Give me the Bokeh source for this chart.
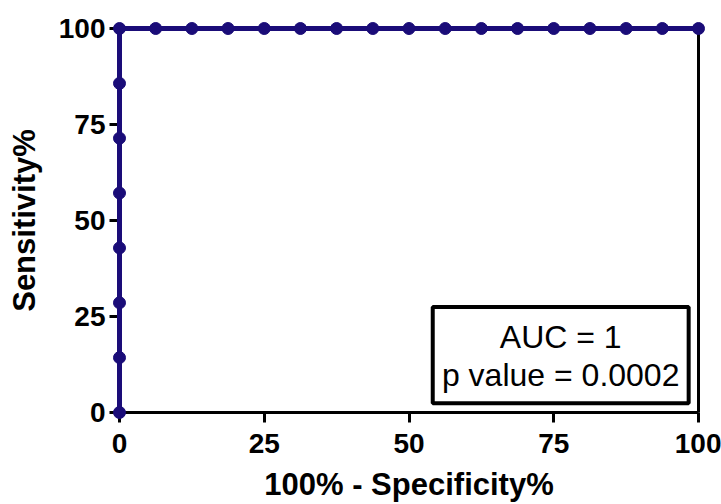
from bokeh.plotting import figure
from bokeh.models import Range1d, FixedTicker, BoxAnnotation, Label
from bokeh.embed import file_html
from bokeh.resources import INLINE

# ROC curve data (percent)
fpr = [0, 0, 0, 0, 0, 0, 0, 0,
       6.25, 12.5, 18.75, 25, 31.25, 37.5, 43.75, 50,
       56.25, 62.5, 68.75, 75, 81.25, 87.5, 93.75, 100]
tpr = [0, 14.29, 28.57, 42.86, 57.14, 71.43, 85.71, 100,
       100, 100, 100, 100, 100, 100, 100, 100,
       100, 100, 100, 100, 100, 100, 100, 100]
ticks = [0, 25, 50, 75, 100]
x_title = "100% - Specificity%"
y_title = "Sensitivity%"
auc_text = "AUC = 1"
p_text = "p value = 0.0002"

FONT = "Liberation Sans"
COL = "#1a0c78"

PAD = 8  # px of frame beyond the data box so markers are not clipped
xpu = 579 / 100.0
ypu = 384 / 100.0
xpad = PAD / xpu
ypad = PAD / ypu

p = figure(width=721, height=504, output_backend="svg", toolbar_location=None,
           x_range=Range1d(-xpad, 100 + xpad), y_range=Range1d(-ypad, 100 + ypad),
           min_border_left=119 - PAD, min_border_right=23 - PAD,
           min_border_top=28 - PAD, min_border_bottom=92 - PAD)
p.background_fill_color = "white"
p.border_fill_color = "white"
p.outline_line_color = None
p.xgrid.visible = False
p.ygrid.visible = False

for ax in (p.xaxis[0], p.yaxis[0]):
    ax.ticker = FixedTicker(ticks=ticks)
    ax.minor_tick_line_color = None
    ax.axis_line_color = None
    ax.major_tick_line_width = 3
    ax.major_tick_line_color = "black"
    ax.major_tick_in = PAD
    ax.major_tick_out = 2
    ax.major_label_text_font = FONT
    ax.major_label_text_font_style = "bold"
    ax.major_label_text_font_size = "28px"
    ax.major_label_text_color = "black"
    ax.axis_label_text_font = FONT
    ax.axis_label_text_font_style = "bold"
    ax.axis_label_text_font_size = "31px"
    ax.axis_label_text_color = "black"

p.xaxis.axis_label = x_title
p.yaxis.axis_label = y_title
p.xaxis.major_label_standoff = 11
p.yaxis.major_label_standoff = 4
p.xaxis.axis_label_standoff = 11
p.yaxis.axis_label_standoff = 14

# data box: axis lines and frame
p.segment(x0=[0, 0, 100, 0], y0=[0, 0, 0, 100], x1=[100, 0, 100, 100], y1=[0, 100, 100, 100],
          line_color="black", line_width=3, level="guide")

p.line(fpr, tpr, line_color=COL, line_width=5, level="overlay")
p.scatter(fpr, tpr, size=12, fill_color=COL, line_color=COL, level="overlay")

box = BoxAnnotation(left=54.1, right=98.3, bottom=2.4, top=27.5,
                    fill_color="white", fill_alpha=1.0,
                    line_color="black", line_alpha=1.0, line_width=4)
p.add_layout(box)
p.add_layout(Label(x=76.2, y=19.7, text=auc_text, text_align="center", text_baseline="middle",
                   text_font=FONT, text_font_size="32px", text_color="black"))
p.add_layout(Label(x=76.2, y=9.8, text=p_text, text_align="center", text_baseline="middle",
                   text_font=FONT, text_font_size="32px", text_color="black"))

open("out.html", "w").write(file_html(p, INLINE))
